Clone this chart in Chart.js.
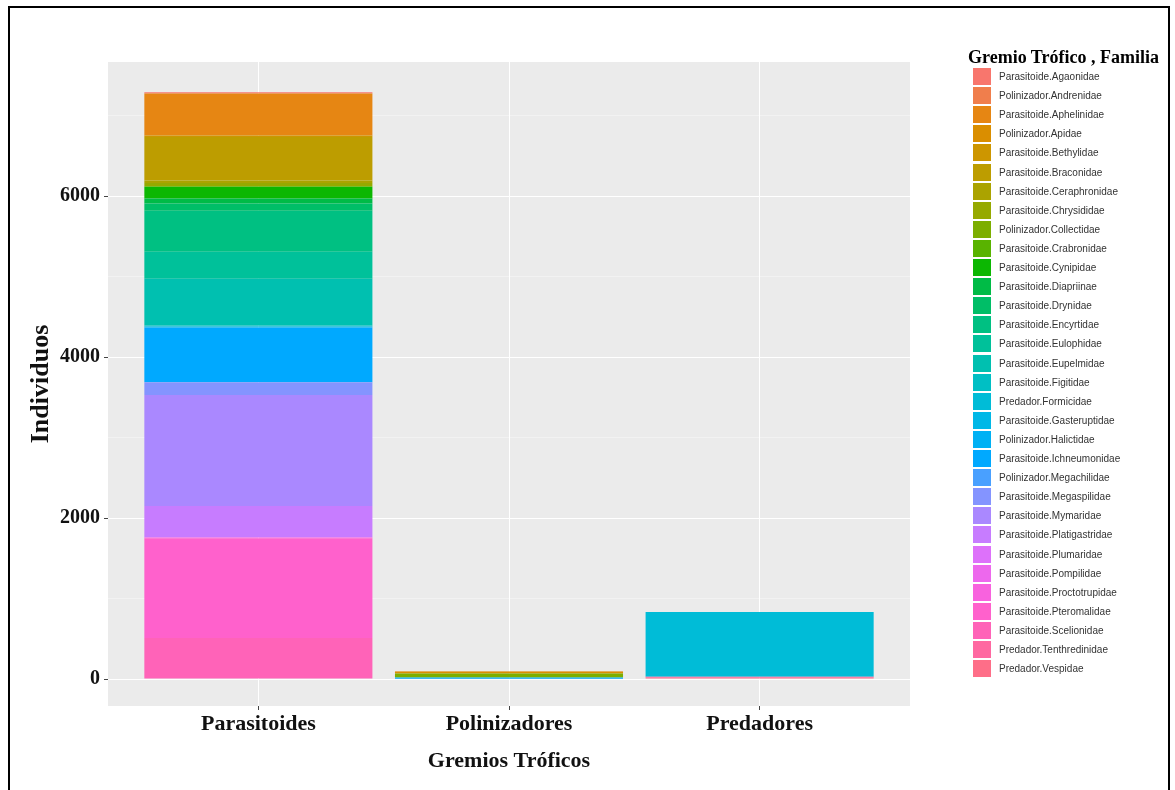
<!DOCTYPE html>
<html>
<head>
<meta charset="utf-8">
<script src="https://cdn.jsdelivr.net/npm/chart.js@4"></script>
<style>
  body { margin: 0; background: #fff; }
  #wrap { position: relative; width: 1175px; height: 790px; overflow: hidden; }
  #frame { position: absolute; left: 8px; top: 6px; width: 1162px; height: 800px; border: 2.5px solid #000; box-sizing: border-box; pointer-events: none; }
  #legend { position: absolute; left: 0; top: 0; }
  .lg-title { position: absolute; left: 968px; top: 46px; font: bold 18px "Liberation Serif", serif; color: #000; line-height: 22px; white-space: nowrap; }
  .lg-box { position: absolute; left: 973px; width: 18px; height: 17px; }
  .lg-text { position: absolute; left: 999px; font: 10px "Liberation Sans", Arial, sans-serif; color: #333; line-height: 17px; white-space: nowrap; }
</style>
</head>
<body>
<div id="wrap">
  <canvas id="myChart" width="1175" height="790"></canvas>
  <div id="legend"></div>
  <div id="frame"></div>
</div>
<script>
// categories on the x axis
const categories = ["Parasitoides", "Polinizadores", "Predadores"];

// legend entries (Gremio Trófico . Familia), same order as the legend
const families = [
  "Parasitoide.Agaonidae", "Polinizador.Andrenidae", "Parasitoide.Aphelinidae", "Polinizador.Apidae",
  "Parasitoide.Bethylidae", "Parasitoide.Braconidae", "Parasitoide.Ceraphronidae", "Parasitoide.Chrysididae",
  "Polinizador.Collectidae", "Parasitoide.Crabronidae", "Parasitoide.Cynipidae", "Parasitoide.Diapriinae",
  "Parasitoide.Drynidae", "Parasitoide.Encyrtidae", "Parasitoide.Eulophidae", "Parasitoide.Eupelmidae",
  "Parasitoide.Figitidae", "Predador.Formicidae", "Parasitoide.Gasteruptidae", "Polinizador.Halictidae",
  "Parasitoide.Ichneumonidae", "Polinizador.Megachilidae", "Parasitoide.Megaspilidae", "Parasitoide.Mymaridae",
  "Parasitoide.Platigastridae", "Parasitoide.Plumaridae", "Parasitoide.Pompilidae", "Parasitoide.Proctotrupidae",
  "Parasitoide.Pteromalidae", "Parasitoide.Scelionidae", "Predador.Tenthredinidae", "Predador.Vespidae"
];

// individuals per family in each guild (same order as families)
const parasitoides = [15, 0, 520, 0, 20, 540, 30, 40, 0, 10, 145, 60, 90, 510, 335, 580,
                      15, 0, 10, 0, 680, 0, 160, 1380, 385, 3, 6, 4, 1240, 510, 0, 0];
const polinizadores = [0, 3, 0, 25, 0, 0, 0, 0, 50, 0, 0, 0, 0, 0, 0, 0,
                       0, 0, 0, 15, 0, 5, 0, 0, 0, 0, 0, 0, 0, 0, 0, 0];
const predadores = [0, 0, 0, 0, 0, 0, 0, 0, 0, 0, 0, 0, 0, 0, 0, 0,
                    0, 805, 0, 0, 0, 0, 0, 0, 0, 0, 0, 0, 0, 0, 12, 15];

// y axis ticks
const yTickValues = [0, 1000, 2000, 3000, 4000, 5000, 6000, 7000];
const yTickLabels = ["0", "", "2000", "", "4000", "", "6000", ""];

// ggplot default hue palette (hcl, c=100, l=65)
function hcl(h, c, l) {
  const hr = h * Math.PI / 180;
  const u = c * Math.cos(hr), v = c * Math.sin(hr);
  const Y = Math.pow((l + 16) / 116, 3);
  const Xn = 0.95047, Yn = 1, Zn = 1.08883;
  const den = Xn + 15 * Yn + 3 * Zn;
  const un = 4 * Xn / den, vn = 9 * Yn / den;
  const up = u / (13 * l) + un, vp = v / (13 * l) + vn;
  const X = Y * 9 * up / (4 * vp);
  const Z = Y * (12 - 3 * up - 20 * vp) / (4 * vp);
  let rgb = [
    3.240479 * X - 1.537150 * Y - 0.498535 * Z,
    -0.969256 * X + 1.875992 * Y + 0.041556 * Z,
    0.055648 * X - 0.204043 * Y + 1.057311 * Z
  ];
  rgb = rgb.map(c => {
    c = c <= 0.0031308 ? 12.92 * c : 1.055 * Math.pow(c, 1 / 2.4) - 0.055;
    return Math.round(Math.min(1, Math.max(0, c)) * 255);
  });
  return "rgb(" + rgb.join(",") + ")";
}
const colors = families.map((f, i) => hcl(15 + i * 360 / families.length, 100, 65));

// legend
const legend = document.getElementById("legend");
let html = '<div class="lg-title">Gremio Trófico , Familia</div>';
families.forEach((f, i) => {
  const top = 68 + i * 19.1;
  html += '<div class="lg-box" style="top:' + top + 'px;background:' + colors[i] + '"></div>';
  html += '<div class="lg-text" style="top:' + top + 'px">' + f + '</div>';
});
legend.innerHTML = html;

// stacked bars: ggplot puts the first level on top, so feed datasets bottom-up
const datasets = [];
for (let i = families.length - 1; i >= 0; i--) {
  datasets.push({
    label: families[i],
    data: [
      { x: 1, y: parasitoides[i] },
      { x: 2, y: polinizadores[i] },
      { x: 3, y: predadores[i] }
    ],
    backgroundColor: colors[i],
    borderWidth: 0,
    barPercentage: 0.91,
    categoryPercentage: 1
  });
}

const panelBg = {
  id: "panelBg",
  beforeDraw(chart) {
    const a = chart.chartArea;
    const ctx = chart.ctx;
    ctx.save();
    ctx.fillStyle = "#EBEBEB";
    ctx.fillRect(a.left, a.top, a.right - a.left, a.bottom - a.top);
    ctx.restore();
  }
};

const serifBold = (size) => ({ family: "'Liberation Serif', 'Times New Roman', serif", size: size, weight: "bold" });

const ctx = document.getElementById("myChart").getContext("2d");
const chart = new Chart(ctx, {
  type: "bar",
  data: { datasets: datasets },
  plugins: [panelBg],
  options: {
    responsive: false,
    animation: false,
    layout: { padding: { left: 0, top: 62, right: 265, bottom: 0 } },
    plugins: {
      legend: { display: false },
      tooltip: { enabled: false }
    },
    scales: {
      x: {
        type: "linear",
        stacked: true,
        offset: false,
        min: 0.4,
        max: 3.6,
        afterBuildTicks: (scale) => { scale.ticks = categories.map((c, i) => ({ value: i + 1 })); },
        afterFit: (scale) => { scale.height = 84; },
        ticks: {
          callback: (v) => categories[v - 1],
          autoSkip: false,
          maxRotation: 0,
          padding: 1,
          color: "#111",
          font: serifBold(22)
        },
        grid: { offset: false, color: "#FFFFFF", lineWidth: 1, tickColor: "#444", tickLength: 4 },
        border: { display: false },
        title: {
          display: true,
          text: "Gremios Tróficos",
          color: "#111",
          font: serifBold(22),
          padding: { top: 0, bottom: 15 }
        }
      },
      y: {
        stacked: true,
        min: -335,
        max: 7665,
        afterBuildTicks: (scale) => { scale.ticks = yTickValues.map(v => ({ value: v })); },
        afterFit: (scale) => { scale.width = 108; },
        ticks: {
          callback: (v, i) => yTickLabels[i],
          autoSkip: false,
          padding: 4,
          color: "#111",
          font: serifBold(20)
        },
        grid: {
          color: (c) => yTickLabels[c.index] !== "" ? "#FFFFFF" : "rgba(255,255,255,0.6)",
          lineWidth: (c) => yTickLabels[c.index] !== "" ? 1 : 0.6,
          tickColor: (c) => yTickLabels[c.index] !== "" ? "#444" : "rgba(0,0,0,0)",
          tickLength: 4
        },
        border: { display: false },
        title: {
          display: true,
          text: "Individuos",
          color: "#111",
          font: serifBold(26),
          padding: { top: 26, bottom: 0 }
        }
      }
    }
  }
});
</script>
</body>
</html>
